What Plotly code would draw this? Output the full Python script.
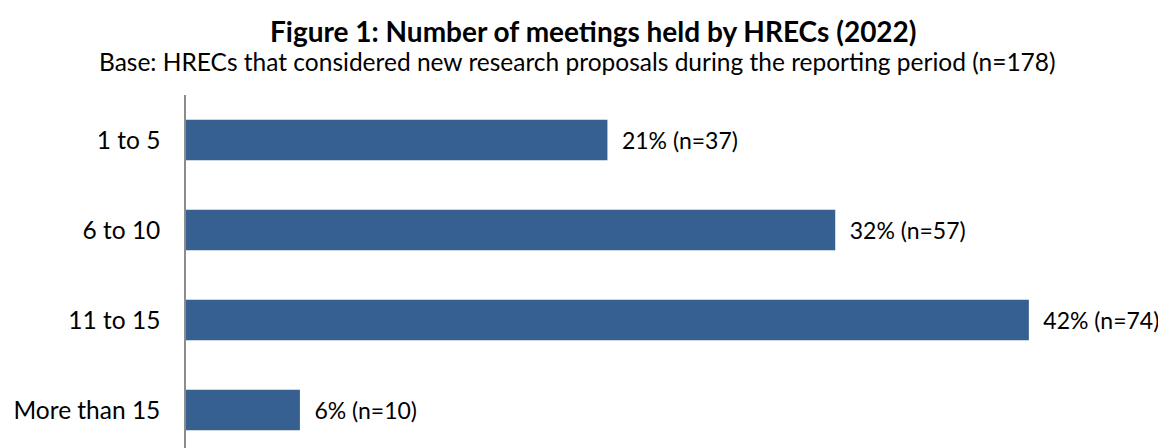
import plotly.graph_objects as go

categories = ["1 to 5", "6 to 10", "11 to 15", "More than 15"]
counts = [37, 57, 74, 10]
percents = [21, 32, 42, 6]
labels = [f"\u2002{p}% (n={n})" for p, n in zip(percents, counts)]

FONT = "Lato"
BAR = "#36608f"

fig = go.Figure(
    go.Bar(
        y=categories,
        x=counts,
        orientation="h",
        marker=dict(color=BAR, line=dict(width=0)),
        width=0.45,
        text=labels,
        textposition="outside",
        textfont=dict(family=FONT, size=23, color="#000000"),
        cliponaxis=False,
        constraintext="none",
        hoverinfo="skip",
    )
)

fig.update_layout(
    width=1158,
    height=440,
    margin=dict(l=178, r=0, t=87, b=0),
    plot_bgcolor="white",
    paper_bgcolor="white",
    showlegend=False,
    font=dict(family=FONT, color="#000000"),
    xaxis=dict(range=[0, 86.04], visible=False, fixedrange=True),
    yaxis=dict(
        type="category",
        categoryorder="array",
        categoryarray=categories,
        range=[3.422, -0.5],
        showline=True,
        linecolor="#8c8c8c",
        linewidth=1.5,
        showgrid=False,
        zeroline=False,
        ticks="",
        ticklabelstandoff=19,
        tickfont=dict(family=FONT, size=24.5, color="#000000"),
        fixedrange=True,
    ),
    annotations=[
        dict(
            text="<b>Figure 1: Number of meetings held by HRECs (2022)</b>",
            xref="paper", yref="paper", x=0.416, y=1.182,
            xanchor="center", yanchor="middle", showarrow=False,
            font=dict(family=FONT, size=28, color="#000000"),
        ),
        dict(
            text="Base: HRECs that considered new research proposals during the reporting period (n=178)",
            xref="paper", yref="paper", x=0.399, y=1.0935,
            xanchor="center", yanchor="middle", showarrow=False,
            font=dict(family=FONT, size=24.5, color="#000000"),
        ),
    ],
)

fig.write_html("out.html")
